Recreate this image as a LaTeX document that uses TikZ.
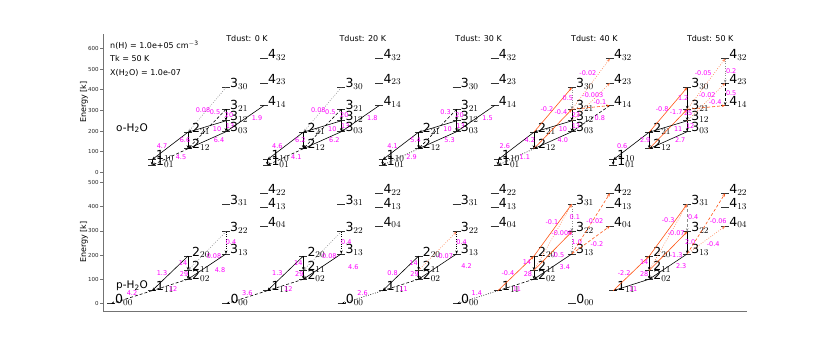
\documentclass[tikz,border=0pt]{standalone}
\usepackage{fontspec}
\setmainfont{DejaVu Sans}
\usetikzlibrary{arrows.meta}

\definecolor{mas}{RGB}{255,85,20}
\definecolor{valc}{RGB}{255,0,255}

% x offset of the levels of one J inside a ladder
\newcommand\jx[1]{\ifcase#1 0\or 41\or 77\or 115\or 153\fi}
% level: prefix, J, KaKc, y
\newcommand\lvl[4]{%
  \pgfmathsetmacro\lx{\bx+\jx{#2}}
  \draw[lev] (\lx,#4) -- ++(8,0) coordinate (#1\k-#2#3-r);
  \coordinate (#1\k-#2#3) at (\lx+4,#4);
  \node[levlab] (#1\k-#2#3-t) at (#1\k-#2#3-r) {#2$_{#3}$};}
% transition: style, from, to, label dx, label y, value
\newcommand\trans[6]{%
  \draw[#1] (#2) -- (#3);
  \node[val] (v#2-#3) at ({\bx+#4},#5) {#6};}

\begin{document}
\begin{tikzpicture}[x=1pt,y=-1pt,
  axis/.style={black!55, line width=0.6pt},
  tick/.style={left, inner sep=1pt, font=\fontsize{5.5}{5.5}\selectfont, black!85},
  lev/.style={line width=0.8pt, black!80},
  levlab/.style={anchor=base west, inner sep=0pt, font=\fontsize{12.5}{12.5}\selectfont},
  arr/.style={-{Stealth[length=3.5pt,width=2.6pt]}, line width=0.6pt},
  lsol/.style={arr},
  ldash/.style={arr, dash pattern=on 3pt off 2pt},
  ldot/.style={arr, dash pattern=on 0.8pt off 1.6pt},
  lgdot/.style={ldot, black!45},
  lgdash/.style={ldash, black!45},
  osol/.style={arr, mas},
  odash/.style={ldash, mas},
  odot/.style={ldot, mas!75},
  val/.style={text=valc, font=\fontsize{6.5}{6.5}\selectfont, inner sep=0pt},
  info/.style={anchor=west, inner sep=0pt, font=\fontsize{8}{8}\selectfont},
  hdr/.style={inner sep=0pt, font=\fontsize{8}{8}\selectfont},
  spec/.style={anchor=west, inner sep=0pt, font=\fontsize{10.5}{10.5}\selectfont},
]
\useasboundingbox (0,0) rectangle (830,346);

% axes
\draw[axis] (103,34) -- (103,311) -- (747,311);
\foreach \e in {0,100,...,600}
  \draw[axis] (103,{172.3-0.2065*\e}) -- ++(-3,0) node[tick] (ty\e) {\e};
\foreach \e in {0,100,...,500}
  \draw[axis] (103,{303.7-0.243*\e}) -- ++(-3,0) node[tick] (tb\e) {\e};
\node[hdr, rotate=90] (ylo) at (84,102) {Energy [k]};
\node[hdr, rotate=90] (ylp) at (84,242) {Energy [k]};

% model parameters
\node[info] (nh) at (110,45) {n(H) = 1.0e+05 cm\textsuperscript{$-$3}};
\node[info] (tk) at (110,59) {Tk = 50 K};
\node[info] (xh) at (110,73) {X(H\textsubscript{2}O) = 1.0e-07};
\node[spec] (ortho) at (116,128) {o-H\textsubscript{2}O};
\node[spec] (para) at (116,286) {p-H\textsubscript{2}O};

\foreach \t [count=\i from 0] in {0,20,30,40,50}
  \node[hdr] (hd\t) at ({247+115.8*\i},39) {Tdust: \t\ K};

% levels of the five ladders
\foreach \k in {0,...,4}{
  \pgfmathsetmacro\bx{107+115.3*\k}
  \lvl{o}{1}{01}{165.2} \lvl{o}{1}{10}{159.7}
  \lvl{o}{2}{12}{148.7} \lvl{o}{2}{21}{132.2}
  \lvl{o}{3}{03}{131.7} \lvl{o}{3}{12}{120.8}
  \lvl{o}{3}{21}{109.3} \lvl{o}{3}{30}{87.5}
  \lvl{o}{4}{14}{105.5} \lvl{o}{4}{23}{83.1}
  \lvl{o}{4}{32}{58.6}
  \lvl{p}{0}{00}{303.7} \lvl{p}{1}{11}{290.7}
  \lvl{p}{2}{02}{279.2} \lvl{p}{2}{11}{270.4}
  \lvl{p}{2}{20}{256.1} \lvl{p}{3}{13}{253.9}
  \lvl{p}{3}{22}{231.6} \lvl{p}{3}{31}{204.0}
  \lvl{p}{4}{04}{226.1} \lvl{p}{4}{13}{207.4}
  \lvl{p}{4}{22}{193.3}
}

% Tdust 0 K
\def\bx{107}
\draw[lsol] (o0-110) -- (o0-101);
\trans{lsol}{o0-221}{o0-110}{55}{146}{4.7}
\trans{ldash}{o0-212}{o0-101}{74}{157}{4.5}
\trans{lsol}{o0-221}{o0-212}{78}{140}{6.6}
\trans{lgdot}{o0-330}{o0-221}{96}{110}{0.08}
\trans{ldash}{o0-321}{o0-212}{108}{112}{0.5}
\trans{lsol}{o0-312}{o0-221}{110}{129}{10}
\trans{lsol}{o0-303}{o0-212}{112}{140}{6.4}
\trans{lsol}{o0-321}{o0-312}{122}{115}{20}
\trans{lsol}{o0-312}{o0-303}{123}{126}{13}
\trans{lsol}{o0-414}{o0-303}{150}{118}{1.9}
\trans{ldash}{p0-111}{p0-000}{25}{293}{4.2}
\trans{ldash}{p0-202}{p0-111}{66}{289}{12}
\trans{lsol}{p0-220}{p0-111}{55}{273}{1.3}
\trans{lsol}{p0-220}{p0-211}{76}{263}{14}
\trans{lsol}{p0-211}{p0-202}{77}{274}{29}
\trans{lgdot}{p0-322}{p0-211}{107}{256}{0.08}
\trans{lsol}{p0-313}{p0-202}{113}{270}{4.8}
\trans{ldot}{p0-322}{p0-313}{124}{242}{0.4}

% Tdust 20 K
\def\bx{222.3}
\draw[lsol] (o1-110) -- (o1-101);
\trans{lsol}{o1-221}{o1-110}{55}{146}{4.6}
\trans{ldash}{o1-212}{o1-101}{74}{157}{4.1}
\trans{lsol}{o1-221}{o1-212}{78}{140}{6.2}
\trans{lgdot}{o1-330}{o1-221}{96}{110}{0.08}
\trans{ldash}{o1-321}{o1-212}{108}{112}{0.5}
\trans{lsol}{o1-312}{o1-221}{110}{129}{10}
\trans{lsol}{o1-303}{o1-212}{112}{140}{6.2}
\trans{lsol}{o1-321}{o1-312}{122}{115}{20}
\trans{lsol}{o1-312}{o1-303}{123}{126}{13}
\trans{lsol}{o1-414}{o1-303}{150}{118}{1.8}
\trans{ldash}{p1-111}{p1-000}{25}{293}{3.6}
\trans{ldash}{p1-202}{p1-111}{66}{289}{12}
\trans{lsol}{p1-220}{p1-111}{55}{273}{1.3}
\trans{lsol}{p1-220}{p1-211}{76}{263}{14}
\trans{lsol}{p1-211}{p1-202}{77}{274}{29}
\trans{lgdot}{p1-322}{p1-211}{107}{256}{0.08}
\trans{lsol}{p1-313}{p1-202}{131}{267}{4.6}
\trans{ldot}{p1-322}{p1-313}{124}{242}{0.4}

% Tdust 30 K
\def\bx{337.6}
\draw[lsol] (o2-110) -- (o2-101);
\trans{lsol}{o2-221}{o2-110}{55}{146}{4.1}
\trans{ldot}{o2-212}{o2-101}{74}{157}{2.9}
\trans{lsol}{o2-221}{o2-212}{78}{140}{5.4}
\trans{ldash}{o2-321}{o2-212}{108}{112}{0.3}
\trans{lsol}{o2-312}{o2-221}{110}{129}{10}
\trans{lsol}{o2-303}{o2-212}{112}{140}{5.3}
\trans{lsol}{o2-321}{o2-312}{122}{115}{20}
\trans{lsol}{o2-312}{o2-303}{123}{126}{13}
\trans{lsol}{o2-414}{o2-303}{150}{118}{1.5}
\trans{ldot}{p2-111}{p2-000}{25}{293}{2.6}
\trans{ldash}{p2-202}{p2-111}{66}{289}{11}
\trans{lsol}{p2-220}{p2-111}{55}{273}{0.8}
\trans{lsol}{p2-220}{p2-211}{76}{263}{14}
\trans{lsol}{p2-211}{p2-202}{77}{274}{29}
\trans{odot}{p2-211}{p2-322}{107}{256}{-0.07}
\trans{lsol}{p2-313}{p2-202}{129}{266}{4.2}
\trans{ldot}{p2-322}{p2-313}{124}{242}{0.4}

% Tdust 40 K
\def\bx{452.9}
\draw[lsol] (o3-110) -- (o3-101);
\trans{lsol}{o3-221}{o3-110}{52}{146}{2.6}
\trans{ldot}{o3-212}{o3-101}{72}{157}{1.1}
\trans{lsol}{o3-221}{o3-212}{77}{140}{4.2}
\trans{osol}{o3-221}{o3-330}{94}{109}{-0.2}
\trans{osol}{o3-212}{o3-321}{108}{112}{-0.4}
\trans{lsol}{o3-312}{o3-221}{110}{129}{10}
\trans{lsol}{o3-303}{o3-212}{110}{140}{4.0}
\trans{lgdot}{o3-330}{o3-321}{115}{98}{0.5}
\trans{lsol}{o3-321}{o3-312}{123}{115}{23}
\trans{lsol}{o3-312}{o3-303}{123}{126}{13}
\trans{odot}{o3-321}{o3-432}{135}{73}{-0.02}
\trans{odot}{o3-312}{o3-423}{140}{95}{-0.003}
\trans{odash}{o3-321}{o3-414}{147}{102}{-0.1}
\trans{ldash}{o3-414}{o3-303}{147}{118}{0.8}
\trans{ldot}{p3-111}{p3-000}{24}{293}{1.4}
\trans{ldash}{p3-202}{p3-111}{64}{289}{11}
\trans{osol}{p3-111}{p3-220}{55}{273}{-0.4}
\trans{lsol}{p3-220}{p3-211}{74}{262}{14}
\trans{lsol}{p3-211}{p3-202}{75}{274}{28}
\trans{osol}{p3-211}{p3-322}{105}{255}{-0.5}
\trans{lsol}{p3-313}{p3-202}{112}{267}{3.4}
\trans{lgdot}{p3-322}{p3-313}{124}{242}{1.0}
\trans{lgdot}{p3-331}{p3-322}{122}{217}{0.1}
\trans{osol}{p3-220}{p3-331}{99}{222}{-0.1}
\trans{odot}{p3-211}{p3-331}{109}{233}{-0.006}
\trans{odash}{p3-313}{p3-422}{142}{221}{-0.02}
\trans{odash}{p3-313}{p3-404}{144}{244}{-0.2}

% Tdust 50 K
\def\bx{568.2}
\draw[lsol] (o4-110) -- (o4-101);
\trans{lsol}{o4-221}{o4-110}{54}{146}{0.6}
\trans{lsol}{o4-221}{o4-212}{77}{140}{2.9}
\trans{osol}{o4-221}{o4-330}{94}{109}{-0.8}
\trans{osol}{o4-212}{o4-321}{108}{112}{-1.7}
\trans{lsol}{o4-312}{o4-221}{110}{129}{11}
\trans{lsol}{o4-303}{o4-212}{112}{140}{2.7}
\trans{lsol}{o4-330}{o4-321}{115}{98}{1.2}
\trans{lsol}{o4-321}{o4-312}{120}{113}{25}
\trans{lsol}{o4-312}{o4-303}{122}{126}{12}
\trans{odot}{o4-321}{o4-432}{135}{73}{-0.05}
\trans{odot}{o4-312}{o4-423}{139}{95}{-0.02}
\trans{odash}{o4-321}{o4-414}{147}{102}{-0.4}
\trans{lgdot}{o4-432}{o4-423}{163}{71}{0.2}
\trans{ldash}{o4-423}{o4-414}{163}{93}{0.5}
\trans{lsol}{p4-202}{p4-111}{65}{289}{11}
\trans{osol}{p4-111}{p4-220}{56}{273}{-2.2}
\trans{lsol}{p4-220}{p4-211}{76}{262}{14}
\trans{lsol}{p4-211}{p4-202}{76}{274}{28}
\trans{osol}{p4-211}{p4-322}{108}{255}{-1.3}
\trans{lsol}{p4-313}{p4-202}{113}{266}{2.3}
\trans{lsol}{p4-322}{p4-313}{122}{242}{2.0}
\trans{lgdash}{p4-331}{p4-322}{125}{217}{0.4}
\trans{osol}{p4-220}{p4-331}{100}{220}{-0.3}
\trans{odot}{p4-211}{p4-331}{108}{233}{-0.07}
\trans{odash}{p4-313}{p4-422}{150}{221}{-0.06}
\trans{odot}{p4-313}{p4-404}{145}{244}{-0.4}
\end{tikzpicture}
\end{document}
